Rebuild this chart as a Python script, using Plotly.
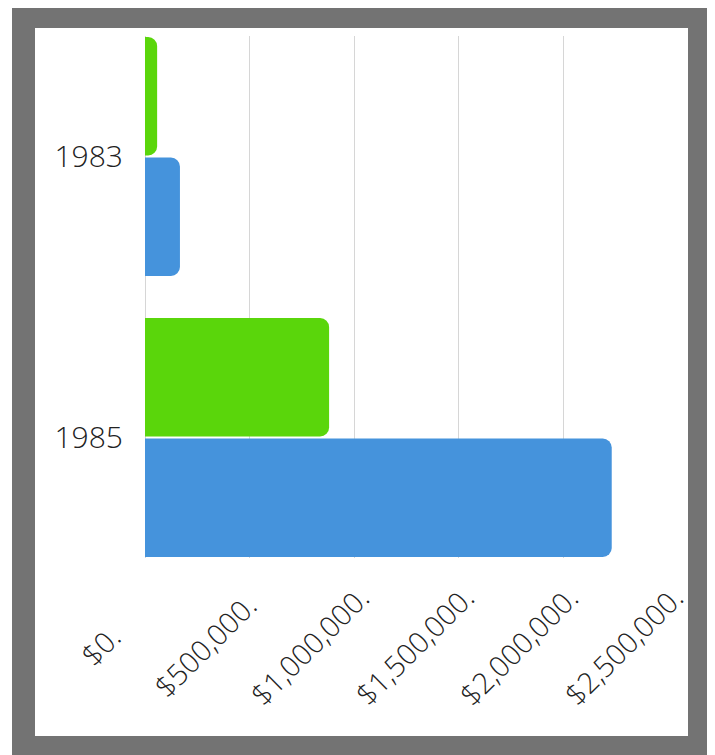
import plotly.graph_objects as go

# ---- data ----
years = ["1983", "1985"]
series_green = [58000, 880000]
series_blue = [167000, 2231000]
x_tick_values = [0, 500000, 1000000, 1500000, 2000000, 2500000]
x_tick_labels = ["$0.", "$500,000.", "$1,000,000.", "$1,500,000.", "$2,000,000.", "$2,500,000."]

# page has an 8px body margin; figure coordinates = page coordinates - 8
W, H = 707, 747
L, R, T, B = 137, 47, 28, 197
pw, ph = W - L - R, H - T - B

def px_x(px):
    return (px - L) / pw

def px_y(py):
    return (H - B - py) / ph

GREEN = "#5AD60B"
BLUE = "#4593DC"
FRAME = "#737373"
GRID = "#d6d6d6"
FONT = "Open Sans"

fig = go.Figure()
fig.add_trace(go.Bar(y=years, x=series_green, orientation="h", marker=dict(color=GREEN, line=dict(width=0)), name="A"))
fig.add_trace(go.Bar(y=years, x=series_blue, orientation="h", marker=dict(color=BLUE, line=dict(width=0)), name="B"))

annotations = []
for v, lab in zip(x_tick_values, x_tick_labels):
    annotations.append(dict(
        x=v, xref="x", y=0, yref="paper", text=lab, showarrow=False,
        textangle=-45, xanchor="center", yanchor="middle",
        xshift=-45, yshift=-87,
        font=dict(family=FONT, size=29, color="#222222", weight=300),
    ))

fig.update_layout(
    width=W, height=H,
    margin=dict(l=L, r=R, t=T, b=B, pad=0),
    paper_bgcolor="white", plot_bgcolor="white",
    barmode="group", bargap=0.1423, bargroupgap=0.0166,
    barcornerradius=9,
    showlegend=False,
    font=dict(family=FONT, size=30, color="#222222", weight=300),
    xaxis=dict(
        range=[0, 2500000], tickvals=x_tick_values, showticklabels=False,
        showgrid=True, gridcolor=GRID, gridwidth=1,
        zeroline=True, zerolinecolor=GRID, zerolinewidth=1,
        showline=False, ticks="", fixedrange=True,
    ),
    yaxis=dict(
        type="category", range=[1.4288, -0.4288],
        showgrid=False, zeroline=False, showline=False, ticks="",
        ticklabelstandoff=21,
        tickfont=dict(family=FONT, size=30, color="#222222", weight=300),
    ),
    annotations=annotations,
    shapes=[dict(
        type="rect", xref="paper", yref="paper",
        x0=px_x(15.5), x1=px_x(691.5), y0=px_y(739.5), y1=px_y(8.5),
        line=dict(color=FRAME, width=23), fillcolor="rgba(0,0,0,0)",
        layer="above",
    )],
)

fig.write_html("out.html")
